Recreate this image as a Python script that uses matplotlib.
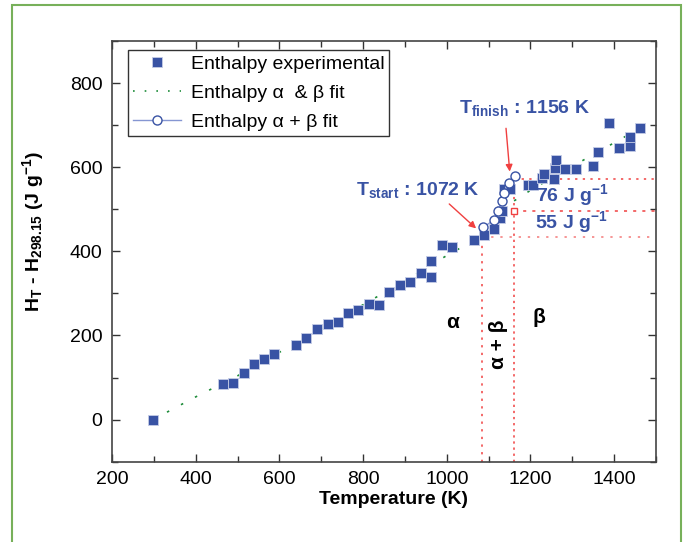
import matplotlib.pyplot as plt
from matplotlib.patches import Rectangle

plt.rcParams['font.family'] = 'Liberation Sans'
plt.rcParams['mathtext.fontset'] = 'custom'
plt.rcParams['mathtext.rm'] = 'Liberation Sans'
plt.rcParams['mathtext.bf'] = 'Liberation Sans:bold'
plt.rcParams['mathtext.it'] = 'Liberation Sans:italic'

# experimental enthalpy (K, J/g)
T_exp = [298, 465, 490, 515, 540, 563, 587, 639, 664, 689, 715, 739, 763, 788,
         813, 838, 863, 888, 912, 938, 962, 963, 988, 1012, 1064, 1088, 1112,
         1127, 1132, 1136, 1150, 1195, 1207, 1227, 1233, 1257, 1258, 1261, 1283,
         1308, 1349, 1361, 1387, 1411, 1437, 1438, 1462]
H_exp = [0, 85, 88, 111, 133, 145, 157, 178, 194, 216, 228, 232, 254, 260,
         274, 273, 304, 321, 326, 348, 378, 340, 415, 411, 427, 438, 453,
         480, 496, 547, 548, 557, 557, 575, 584, 572, 597, 617, 596,
         596, 603, 636, 705, 645, 650, 672, 692]

# alpha and beta fits
T_fit_a = [298, 400, 500, 600, 700, 800, 900, 1000, 1085]
H_fit_a = [0, 54, 104, 160, 216, 273, 330, 390, 437]
T_fit_b = [1161, 1200, 1250, 1300, 1350, 1400, 1450]
H_fit_b = [520, 545, 574, 602, 630, 658, 686]

# alpha + beta transition fit
T_ab = [1087, 1112, 1123, 1132, 1136, 1148, 1162]
H_ab = [457, 474, 496, 519, 538, 562, 580]

T_start, T_finish = 1085, 1161
H_low, H_mid, H_high = 434.5, 495, 573

blue = '#3953a4'
red = '#f04040'
green = '#1e8c3a'

fig = plt.figure(figsize=(6.88, 5.42), dpi=100)
ax = fig.add_axes([0.1628, 0.1482, 0.7907, 0.7762])

fig.patches.append(Rectangle((12 / 688, -0.05), 669 / 688, 1.04, transform=fig.transFigure,
                             fill=False, edgecolor='#77b05a', lw=1.5))

# guide lines
ax.plot([T_start, T_start], [-100, H_low], color=red, ls=(0, (1.5, 3.5)), lw=1.1)
ax.plot([T_finish, T_finish], [-100, H_high], color=red, ls=(0, (1.5, 2.5)), lw=1.1)
ax.plot([T_start, 1500], [H_low, H_low], color=red, ls=(0, (1.5, 4.5)), lw=1.1, alpha=0.7)
ax.plot([T_finish, 1500], [H_mid, H_mid], color=red, ls=(0, (2, 4)), lw=1.1)
ax.plot([T_finish, 1500], [H_high, H_high], color=red, ls=(0, (1.5, 3.5)), lw=1.1)
ax.plot([T_finish], [H_mid], 's', ms=5, mfc='white', mec=red, mew=1)

ax.plot(T_fit_a, H_fit_a, color=green, ls=(0, (1.5, 8)), lw=1.2)
ax.plot(T_fit_b, H_fit_b, color=green, ls=(0, (1.5, 8)), lw=1.2)
ax.plot(T_exp, H_exp, 's', ms=6.5, mfc=blue, mec='#c5cde6', mew=0.6, ls='none',
        label='Enthalpy experimental', zorder=3)
ax.plot([], [], color=green, ls=(0, (1, 6)), lw=1.2, label='Enthalpy α  & β fit')
ax.plot(T_ab, H_ab, '-o', color='#8596d2', lw=1, ms=6.5, mfc='white', mec=blue,
        mew=1, label='Enthalpy α + β fit', zorder=4)

ax.annotate('', xy=(1075, 450), xytext=(1001, 517),
            arrowprops=dict(arrowstyle='-|>', color=red, lw=1, mutation_scale=10))
ax.annotate('', xy=(1151, 583), xytext=(1141, 699),
            arrowprops=dict(arrowstyle='-|>', color=red, lw=1, mutation_scale=10))

ax.text(783, 545, r'T$_{\mathbf{start}}$ : 1072 K', color=blue, fontsize=14,
        fontweight='bold', va='center')
ax.text(1030, 740, r'T$_{\mathbf{finish}}$ : 1156 K', color=blue, fontsize=14,
        fontweight='bold', va='center')
ax.text(1213, 533, r'76 J g$^{\mathbf{-1}}$', color=blue, fontsize=14,
        fontweight='bold', va='center')
ax.text(1210, 470, r'55 J g$^{\mathbf{-1}}$', color=blue, fontsize=14,
        fontweight='bold', va='center')
ax.text(1015, 230, 'α', fontsize=15, fontweight='bold', ha='center', va='center')
ax.text(1220, 242, 'β', fontsize=15, fontweight='bold', ha='center', va='center')
ax.text(1123, 180, 'α + β', fontsize=15, fontweight='bold', ha='center', va='center',
        rotation=90)

ax.set_xlim(200, 1500)
ax.set_ylim(-100, 900)
ax.set_xticks(range(200, 1401, 200))
ax.set_xticks(range(200, 1501, 100), minor=True)
ax.set_yticks(range(0, 801, 200))
ax.set_yticks(range(-100, 901, 100), minor=True)
ax.tick_params(which='both', direction='in', top=True, right=True, labelsize=14, pad=7,
               color='#333333')
ax.tick_params(which='major', length=6, width=1)
ax.tick_params(which='minor', length=4, width=1)
for s in ax.spines.values():
    s.set_linewidth(1.2)
    s.set_color('#444444')

ax.set_xlabel('Temperature (K)', fontsize=14, fontweight='bold')
ax.xaxis.set_label_coords(0.517, -0.069)
ax.set_ylabel(r'H$_{\mathbf{T}}$ - H$_{\mathbf{298.15}}$ (J g$^{\mathbf{-1}}$)',
              fontsize=14, fontweight='bold')
ax.yaxis.set_label_coords(-0.121, 0.546)

ax.legend(loc='upper left', bbox_to_anchor=(0.029, 0.978), fontsize=14, frameon=True,
          fancybox=False, edgecolor='black', handlelength=2.5, borderpad=0.25,
          borderaxespad=0, labelspacing=0.6, handletextpad=0.5)

fig.savefig('out.png', dpi=100)
